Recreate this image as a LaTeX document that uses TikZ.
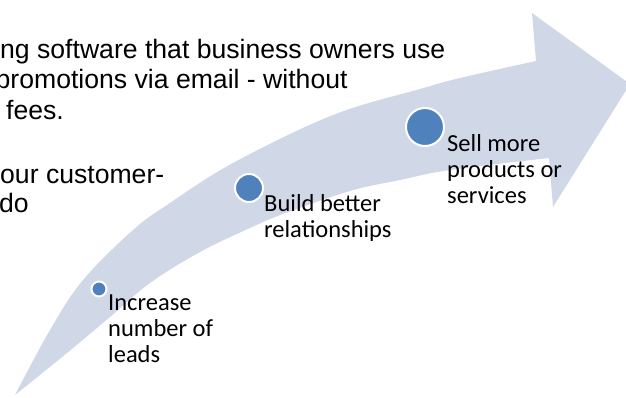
\documentclass[tikz,border=0pt]{standalone}
\usepackage{fontspec}
\usepackage{tikz}
\newfontfamily\slidefont{Liberation Sans}
\newfontfamily\labelfont{Carlito}
\definecolor{arrowfill}{RGB}{208,216,232}
\definecolor{dotblue}{RGB}{79,129,189}
\tikzset{
	dot/.style={circle, fill=dotblue, draw=white, line width=2pt, inner sep=0pt},
	stagelabel/.style={anchor=base west, align=left, inner sep=0pt, font=\labelfont\fontsize{24.5}{26}\selectfont},
	slidetext/.style={anchor=base west, inner sep=0pt, font=\slidefont\fontsize{26.6}{30.6}\selectfont}
}
\begin{document}
\begin{tikzpicture}[x=1pt, y=-1pt]
		%%%%% START %%%%%
		
		\useasboundingbox (0, 0) rectangle (626, 397);
		\clip (0, 0) rectangle (626, 397);
		
		\fill[arrowfill] plot[smooth, tension=0.6] coordinates {(15, 395) (50, 330) (83, 280) (133, 230) (167, 205) (233, 163) (333, 115) (420, 89) (460, 78) (536, 61)}
			-- (532, 13) -- (630, 84) -- (553, 207)
			-- plot[smooth, tension=0.6] coordinates {(549, 158) (450, 170) (400, 180) (350, 191) (283, 214) (250, 228) (200, 252) (150, 283) (110, 317) (67, 353) (15, 395)} -- cycle;
		
		\node[slidetext] (line1) at (0, 58) {ng software that business owners use};
		\node[slidetext] (line2) at (-4.5, 88) {promotions via email - without};
		\node[slidetext] (line3) at (6, 119) {fees.};
		\node[slidetext] (line4) at (0, 183) {our customer-};
		\node[slidetext] (line5) at (-1, 212) {do};
		
		\node[dot, minimum size=15pt] (lead) at (99, 289) {};
		\node[dot, minimum size=28pt] (build) at (249, 188) {};
		\node[dot, minimum size=38pt] (sell) at (425, 127) {};
		
		% base of a multi-line node is its last line
		\node[stagelabel] (leadtext) at (108, 362) {Increase\\number of\\leads};
		\node[stagelabel] (buildtext) at (264, 237) {Build better\\relationships};
		\node[stagelabel] (selltext) at (447, 203) {Sell more\\products or\\services};
		
		%%%%% END %%%%%
	\end{tikzpicture}
\end{document}
